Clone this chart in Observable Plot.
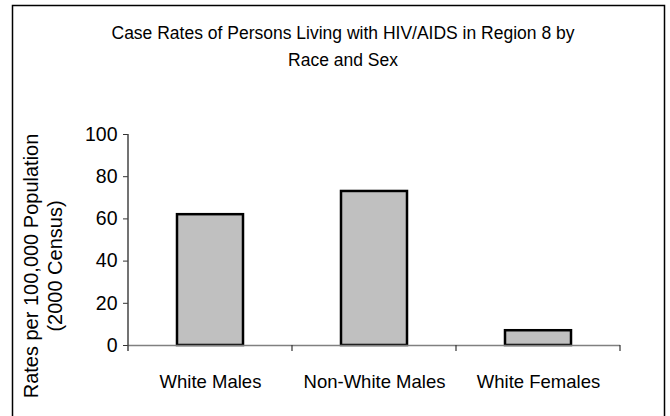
<!DOCTYPE html>
<html>
<head>
<meta charset="utf-8">
<script src="https://cdn.jsdelivr.net/npm/d3@7"></script>
<script src="https://cdn.jsdelivr.net/npm/@observablehq/plot@0.6"></script>
<style>
  html, body { margin: 0; padding: 0; background: #fff; }
  #chart svg { display: block; }
</style>
</head>
<body>
<div id="chart"></div>
<script>
const categories = ["White Males", "Non-White Males", "White Females"];
const rates = [62, 73, 7];
const yTicks = [0, 20, 40, 60, 80, 100];
const titleLines = ["Case Rates of Persons Living with HIV/AIDS in Region 8 by", "Race and Sex"];
const yTitleLines = ["Rates per 100,000 Population", "(2000 Census)"];

const data = categories.map((c, i) => ({category: c, rate: rates[i]}));
const FONT = "'Liberation Sans', Arial, sans-serif";

const W = 670, H = 416;
const chart = Plot.plot({
  width: W,
  height: H,
  marginLeft: 128,
  marginRight: 50,
  marginTop: 134,
  marginBottom: 71,
  style: {fontFamily: FONT, fontSize: "18px", color: "#000", background: "#fff"},
  x: {domain: categories, paddingInner: 0.6, paddingOuter: 0.3, label: null},
  y: {domain: [0, 100], ticks: yTicks, label: null},
  marks: [
    Plot.barY(data, {x: "category", y: "rate", fill: "#c0c0c0", stroke: "#000", strokeWidth: 2.5}),
    Plot.ruleY([0], {stroke: "#808080", strokeWidth: 1.5}),
    Plot.axisY({ticks: yTicks, tickSize: 5, tickPadding: 6, stroke: "#333", fontSize: 19.5, fill: "#000", label: null}),
    Plot.axisX({tickSize: 0, tickPadding: 29, fontSize: 18.5, fill: "#000", label: null})
  ]
});

const svg = d3.select(chart);
const xs = chart.scale("x");
const ys = chart.scale("y");
const left = 128;
const y0 = ys.apply(0), yTop = ys.apply(100);

// y axis line
svg.append("line").attr("x1", left).attr("x2", left).attr("y1", yTop).attr("y2", y0 + 6)
  .attr("stroke", "#444").attr("stroke-width", 1.5);
// category boundary ticks
const step = xs.step;
categories.forEach(c => {
  const xEdge = xs.apply(c) + xs.bandwidth + (step - xs.bandwidth) / 2;
  svg.append("line").attr("x1", xEdge).attr("x2", xEdge).attr("y1", y0).attr("y2", y0 + 6)
    .attr("stroke", "#333").attr("stroke-width", 1.2);
});

// outer frame
svg.append("rect").attr("x", 12.5).attr("y", 5.5).attr("width", 652).attr("height", 430)
  .attr("fill", "none").attr("stroke", "#000").attr("stroke-width", 1.5);

// title
const title = svg.append("text").attr("text-anchor", "middle")
  .attr("font-family", FONT).attr("font-size", 17.5).attr("fill", "#000");
titleLines.forEach((t, i) => {
  title.append("tspan").attr("x", 343).attr("y", 39 + i * 27).text(t);
});

// y axis title
const yt = svg.append("g").attr("font-family", FONT).attr("font-size", 20).attr("fill", "#000")
  .attr("text-anchor", "middle");
yt.append("text").attr("transform", "translate(38,266) rotate(-90)").text(yTitleLines[0]);
yt.append("text").attr("transform", "translate(62,266) rotate(-90)").text(yTitleLines[1]);

document.getElementById("chart").appendChild(chart);
</script>
</body>
</html>
